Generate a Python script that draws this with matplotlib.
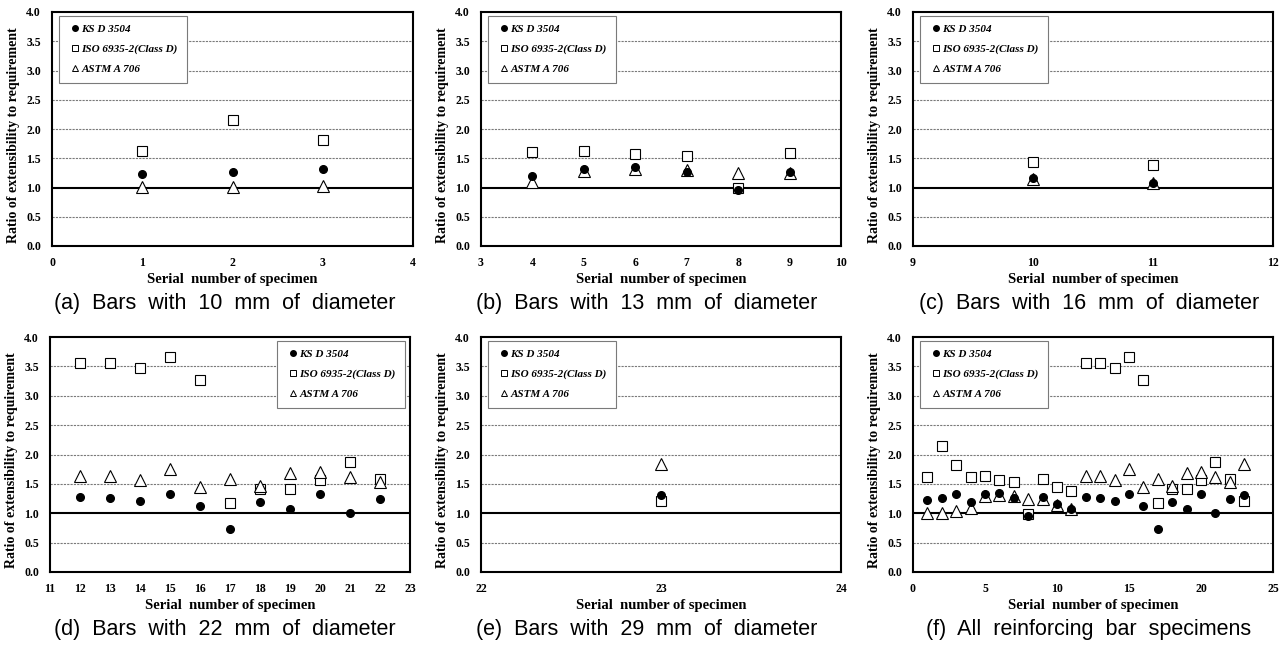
import matplotlib

matplotlib.use("Agg")

import matplotlib.pyplot as plt
from matplotlib.lines import Line2D

W, H = 1287, 649

specimen = list(range(1, 24))
ks_d3504 = [1.23, 1.26, 1.32, 1.20, 1.32, 1.35, 1.26, 0.95, 1.27, 1.16, 1.08, 1.28,
            1.26, 1.21, 1.33, 1.13, 0.73, 1.19, 1.07, 1.33, 1.00, 1.24, 1.31]
iso_6935 = [1.62, 2.15, 1.82, 1.61, 1.63, 1.57, 1.53, 0.99, 1.59, 1.44, 1.38, 3.55,
            3.55, 3.47, 3.66, 3.27, 1.18, 1.41, 1.41, 1.56, 1.87, 1.59, 1.21]
astm_a706 = [1.01, 1.01, 1.03, 1.09, 1.29, 1.31, 1.30, 1.24, 1.25, 1.14, 1.08, 1.63,
             1.63, 1.57, 1.75, 1.45, 1.59, 1.47, 1.69, 1.70, 1.62, 1.53, 1.83]

captions = ["(a)  Bars  with  10  mm  of  diameter",
            "(b)  Bars  with  13  mm  of  diameter",
            "(c)  Bars  with  16  mm  of  diameter",
            "(d)  Bars  with  22  mm  of  diameter",
            "(e)  Bars  with  29  mm  of  diameter",
            "(f)  All  reinforcing  bar  specimens"]
# specimen range shown in each panel, x limits and tick step
panel_ranges = [(1, 3), (4, 9), (10, 11), (12, 22), (23, 23), (1, 23)]
panel_xlims = [(0, 4), (3, 10), (9, 12), (11, 23), (22, 24), (0, 25)]
panel_xstep = [1, 1, 1, 1, 1, 5]

SERIF = "Liberation Serif"
SANS = "Liberation Sans"

# pixel boxes: left, top, right, bottom
boxes = [(52, 12, 413, 246), (481, 12, 841, 246), (913, 12, 1273, 246),
         (50, 337, 410, 572), (481, 337, 841, 572), (913, 337, 1273, 572)]
caption_x = [225, 647, 1089, 225, 647, 1089]
caption_y = [304, 304, 304, 630, 630, 630]

fig = plt.figure(figsize=(W / 100, H / 100), dpi=100)
fig.patch.set_facecolor("white")

for i in range(6):
    l, t, r, b = boxes[i]
    ax = fig.add_axes([l / W, 1 - b / H, (r - l) / W, (b - t) / H])
    lo, hi = panel_ranges[i]
    sel = [k for k, s in enumerate(specimen) if lo <= s <= hi]
    xs = [specimen[k] for k in sel]

    for y in [0.5, 1.5, 2.0, 2.5, 3.0, 3.5]:
        ax.axhline(y, color="#7a7a7a", linewidth=0.8, linestyle=(0, (2, 1)), zorder=1)
    ax.axhline(1.0, color="black", linewidth=1.5, zorder=1)

    ax.plot(xs, [iso_6935[k] for k in sel], linestyle="none", marker="s", markersize=7.5,
            markerfacecolor="white", markeredgecolor="black", markeredgewidth=0.8, zorder=3)
    ax.plot(xs, [astm_a706[k] for k in sel], linestyle="none", marker="^", markersize=9,
            markerfacecolor="white", markeredgecolor="black", markeredgewidth=0.8, zorder=4)
    ax.plot(xs, [ks_d3504[k] for k in sel], linestyle="none", marker="o", markersize=5.5,
            markerfacecolor="black", markeredgecolor="black", zorder=5)

    x0, x1 = panel_xlims[i]
    ax.set_xlim(x0, x1)
    ax.set_ylim(0, 4.0)
    ax.set_xticks(list(range(x0, x1 + 1, panel_xstep[i])))
    ax.set_yticks([0.0, 0.5, 1.0, 1.5, 2.0, 2.5, 3.0, 3.5, 4.0])
    ax.set_yticklabels([f"{v:.1f}" for v in ax.get_yticks()])
    ax.tick_params(length=0, labelsize=8.5)
    ax.tick_params(axis="y", pad=8)
    ax.tick_params(axis="x", pad=8)
    for lab in ax.get_xticklabels() + ax.get_yticklabels():
        lab.set_fontfamily(SERIF)
        lab.set_fontweight("bold")
    for sp in ax.spines.values():
        sp.set_linewidth(1.5)
        sp.set_color("black")

    ax.set_xlabel("Serial  number of specimen", fontfamily=SERIF, fontweight="bold",
                  fontsize=10.5, labelpad=3)
    ax.set_ylabel("Ratio of extensibility to requirement", fontfamily=SERIF,
                  fontweight="bold", fontsize=10, labelpad=2)
    ax.yaxis.set_label_coords(-0.088, 0.475)

    handles = [
        Line2D([], [], linestyle="none", marker="o", markersize=4, markerfacecolor="black",
               markeredgecolor="black"),
        Line2D([], [], linestyle="none", marker="s", markersize=4.5, markerfacecolor="white",
               markeredgecolor="black", markeredgewidth=0.7),
        Line2D([], [], linestyle="none", marker="^", markersize=4.5, markerfacecolor="white",
               markeredgecolor="black", markeredgewidth=0.7),
    ]
    labels = ["KS D 3504", "ISO 6935-2(Class D)", "ASTM A 706"]
    if i == 3:
        loc, anchor = "upper right", (0.985, 0.985)
    else:
        loc, anchor = "upper left", (0.02, 0.985)
    leg = ax.legend(handles, labels, loc=loc, bbox_to_anchor=anchor, frameon=True,
                    fancybox=False, edgecolor="#7a7a7a", framealpha=1.0,
                    handlelength=1.2, handletextpad=0.0, labelspacing=0.9,
                    borderpad=0.8, borderaxespad=0.0,
                    prop={"family": SERIF, "weight": "bold", "style": "italic", "size": 8.0})
    leg.get_frame().set_linewidth(0.8)
    leg.set_zorder(6)

    fig.text(caption_x[i] / W, 1 - caption_y[i] / H, captions[i], ha="center", va="center",
             fontfamily=SANS, fontsize=15.5)

fig.savefig("out.png", dpi=100)
